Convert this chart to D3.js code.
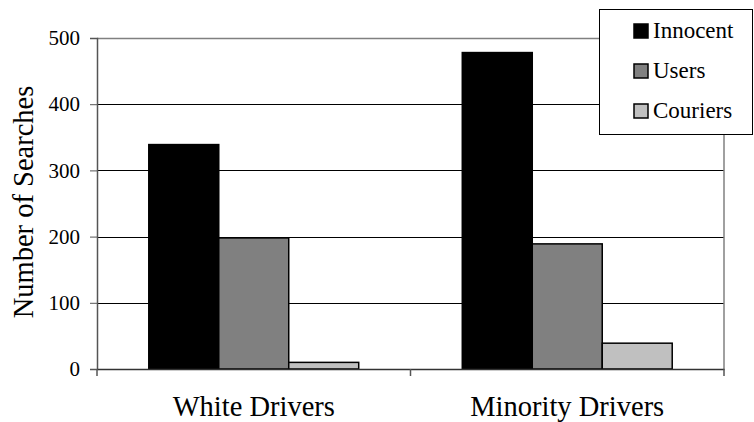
<!DOCTYPE html>
<html>
<head>
<meta charset="utf-8">
<script src="https://cdn.jsdelivr.net/npm/d3@7"></script>
<style>
  html, body { margin: 0; padding: 0; background: #fff; }
  svg { display: block; }
  svg text { font-family: "Times New Roman", "Liberation Serif", Tinos, "DejaVu Serif", serif; fill: #000; }
</style>
</head>
<body>
<script>
// Searches by driver group and outcome
const categories = ["White Drivers", "Minority Drivers"];
const seriesNames = ["Innocent", "Users", "Couriers"];
const innocent = [339, 478];
const users = [198, 189];
const couriers = [10, 39];
const yTicks = [0, 100, 200, 300, 400, 500];

const seriesValues = [innocent, users, couriers];
const seriesColors = ["#000000", "#808080", "#c0c0c0"];

const FONT = "'Times New Roman', 'Liberation Serif', Tinos, 'DejaVu Serif', serif";
const W = 754, H = 422;
const plot = { left: 97, right: 724, top: 38, bottom: 369 };

const svg = d3.select("body").append("svg").attr("width", W).attr("height", H);

const x0 = d3.scaleBand().domain(categories).range([plot.left, plot.right]).paddingInner(0).paddingOuter(0);
const x1 = d3.scaleBand().domain(seriesNames).range([0, x0.bandwidth()]).paddingInner(0).paddingOuter(0.74);
const y = d3.scaleLinear().domain([0, 500]).range([plot.bottom, plot.top]);

// horizontal gridlines
svg.append("g")
  .selectAll("line")
  .data(yTicks.filter(t => t > 0 && t < 500))
  .join("line")
  .attr("x1", plot.left).attr("x2", plot.right)
  .attr("y1", d => Math.round(y(d)) + 0.5).attr("y2", d => Math.round(y(d)) + 0.5)
  .attr("stroke", "#000").attr("stroke-width", 1);

// plot frame (top and right)
svg.append("line")
  .attr("x1", plot.left).attr("x2", plot.right)
  .attr("y1", plot.top + 0.5).attr("y2", plot.top + 0.5)
  .attr("stroke", "#808080").attr("stroke-width", 1.5);
svg.append("line")
  .attr("x1", plot.right).attr("x2", plot.right)
  .attr("y1", plot.top).attr("y2", plot.bottom)
  .attr("stroke", "#808080").attr("stroke-width", 1.5);

// bars
const rows = [];
categories.forEach((c, ci) => {
  seriesNames.forEach((s, si) => {
    rows.push({ cat: c, series: s, value: seriesValues[si][ci], color: seriesColors[si] });
  });
});

svg.append("g")
  .selectAll("rect")
  .data(rows)
  .join("rect")
  .attr("x", d => x0(d.cat) + x1(d.series))
  .attr("y", d => y(d.value))
  .attr("width", x1.bandwidth())
  .attr("height", d => y(0) - y(d.value))
  .attr("fill", d => d.color)
  .attr("stroke", "#000")
  .attr("stroke-width", 1.5);

// y axis
const yAxis = svg.append("g")
  .attr("transform", `translate(${plot.left},0)`)
  .call(d3.axisLeft(y).tickValues(yTicks).tickSize(7).tickPadding(10).tickFormat(d3.format("d")));
yAxis.attr("font-family", FONT);
yAxis.select(".domain").attr("stroke", "#555").attr("stroke-width", 1.5);
yAxis.selectAll(".tick line").attr("stroke", "#555");
yAxis.selectAll(".tick text")
  .style("font-family", FONT)
  .style("font-size", "21px").attr("fill", "#000");

// x axis
const xAxis = svg.append("g")
  .attr("transform", `translate(0,${plot.bottom})`)
  .call(d3.axisBottom(x0).tickSize(0).tickPadding(0));
xAxis.attr("font-family", FONT);
xAxis.select(".domain").attr("stroke", "#333").attr("stroke-width", 1.5);
xAxis.selectAll(".tick text")
  .style("font-family", FONT)
  .style("font-size", "28.5px").attr("fill", "#000")
  .attr("y", 47).attr("dy", null);
// category separators below the axis
svg.append("g")
  .selectAll("line")
  .data([plot.left, x0(categories[1]), plot.right])
  .join("line")
  .attr("x1", d => d).attr("x2", d => d)
  .attr("y1", plot.bottom).attr("y2", plot.bottom + 7)
  .attr("stroke", "#555").attr("stroke-width", 1.5);

// y axis title
svg.append("text")
  .attr("transform", `translate(33,202) rotate(-90)`)
  .attr("text-anchor", "middle")
  .style("font-family", FONT)
  .style("font-size", "28.5px")
  .text("Number of Searches");

// legend
const legend = svg.append("g");
legend.append("rect")
  .attr("x", 599.5).attr("y", 9.5).attr("width", 153).attr("height", 125)
  .attr("fill", "#fff").attr("stroke", "#000").attr("stroke-width", 1);
const rowBase = [38, 78, 118];
seriesNames.forEach((s, i) => {
  legend.append("rect")
    .attr("x", 634).attr("y", rowBase[i] - 14).attr("width", 14).attr("height", 14)
    .attr("fill", seriesColors[i]).attr("stroke", "#000").attr("stroke-width", 1.5);
  legend.append("text")
    .attr("x", 653).attr("y", rowBase[i])
    .style("font-family", FONT)
    .style("font-size", "23px")
    .text(s);
});
</script>
</body>
</html>
